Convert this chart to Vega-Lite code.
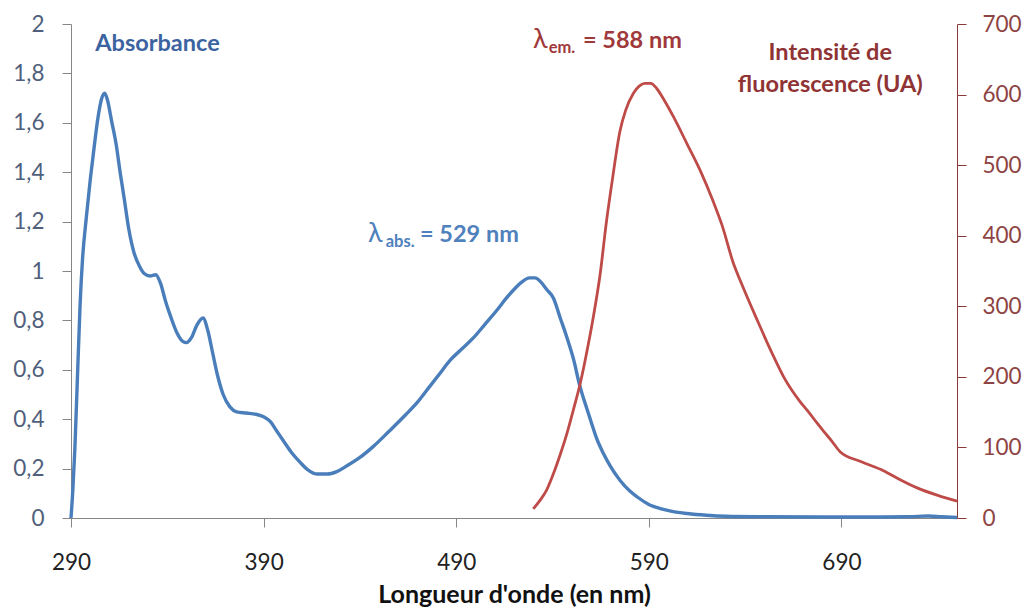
{
  "$schema": "https://vega.github.io/schema/vega-lite/v6.json",
  "width": 886,
  "height": 494,
  "autosize": {"type": "none"},
  "padding": {"left": 71, "top": 24, "right": 71, "bottom": 91},
  "background": "white",
  "config": {
    "view": {"stroke": null},
    "font": "Lato",
    "axis": {"grid": false, "labelFont": "Lato", "labelFontSize": 22.5, "titleFont": "Lato", "labelFlush": false, "labelOverlap": false}
  },
  "datasets": {
    "absorbance": [
      {"wavelength": 290, "absorbance": 0},
      {"wavelength": 291, "absorbance": 0.12},
      {"wavelength": 292, "absorbance": 0.28},
      {"wavelength": 293.3, "absorbance": 0.56},
      {"wavelength": 294.7, "absorbance": 0.86},
      {"wavelength": 296, "absorbance": 1.05},
      {"wavelength": 298, "absorbance": 1.22},
      {"wavelength": 300, "absorbance": 1.37},
      {"wavelength": 302, "absorbance": 1.5},
      {"wavelength": 304, "absorbance": 1.62},
      {"wavelength": 306, "absorbance": 1.7},
      {"wavelength": 307.5, "absorbance": 1.72},
      {"wavelength": 309, "absorbance": 1.69},
      {"wavelength": 311, "absorbance": 1.61},
      {"wavelength": 313.5, "absorbance": 1.51},
      {"wavelength": 315.5, "absorbance": 1.4},
      {"wavelength": 317.5, "absorbance": 1.3},
      {"wavelength": 320, "absorbance": 1.17},
      {"wavelength": 322.5, "absorbance": 1.08},
      {"wavelength": 325.5, "absorbance": 1.02},
      {"wavelength": 328, "absorbance": 0.99},
      {"wavelength": 331, "absorbance": 0.98},
      {"wavelength": 334, "absorbance": 0.985},
      {"wavelength": 336.5, "absorbance": 0.95},
      {"wavelength": 339, "absorbance": 0.88},
      {"wavelength": 342, "absorbance": 0.81},
      {"wavelength": 345, "absorbance": 0.75},
      {"wavelength": 348, "absorbance": 0.715},
      {"wavelength": 350, "absorbance": 0.71},
      {"wavelength": 352.5, "absorbance": 0.73},
      {"wavelength": 355.3, "absorbance": 0.78},
      {"wavelength": 358.5, "absorbance": 0.81},
      {"wavelength": 361, "absorbance": 0.76},
      {"wavelength": 363.5, "absorbance": 0.67},
      {"wavelength": 366, "absorbance": 0.58},
      {"wavelength": 369, "absorbance": 0.5},
      {"wavelength": 372.5, "absorbance": 0.45},
      {"wavelength": 376, "absorbance": 0.43},
      {"wavelength": 381, "absorbance": 0.425},
      {"wavelength": 386, "absorbance": 0.42},
      {"wavelength": 390, "absorbance": 0.41},
      {"wavelength": 393.5, "absorbance": 0.39},
      {"wavelength": 397, "absorbance": 0.35},
      {"wavelength": 400.5, "absorbance": 0.31},
      {"wavelength": 405, "absorbance": 0.26},
      {"wavelength": 409, "absorbance": 0.225},
      {"wavelength": 413, "absorbance": 0.195},
      {"wavelength": 418, "absorbance": 0.178},
      {"wavelength": 423, "absorbance": 0.178},
      {"wavelength": 428, "absorbance": 0.188},
      {"wavelength": 433, "absorbance": 0.21},
      {"wavelength": 440, "absorbance": 0.245},
      {"wavelength": 447, "absorbance": 0.29},
      {"wavelength": 455, "absorbance": 0.35},
      {"wavelength": 464, "absorbance": 0.42},
      {"wavelength": 470, "absorbance": 0.47},
      {"wavelength": 475, "absorbance": 0.52},
      {"wavelength": 481, "absorbance": 0.58},
      {"wavelength": 487, "absorbance": 0.64},
      {"wavelength": 493, "absorbance": 0.685},
      {"wavelength": 499, "absorbance": 0.73},
      {"wavelength": 505, "absorbance": 0.785},
      {"wavelength": 511, "absorbance": 0.84},
      {"wavelength": 516, "absorbance": 0.89},
      {"wavelength": 520, "absorbance": 0.925},
      {"wavelength": 524, "absorbance": 0.955},
      {"wavelength": 528, "absorbance": 0.972},
      {"wavelength": 531, "absorbance": 0.972},
      {"wavelength": 534, "absorbance": 0.955},
      {"wavelength": 537, "absorbance": 0.925},
      {"wavelength": 540.5, "absorbance": 0.89},
      {"wavelength": 544, "absorbance": 0.81},
      {"wavelength": 547.5, "absorbance": 0.73},
      {"wavelength": 551, "absorbance": 0.64},
      {"wavelength": 554, "absorbance": 0.54},
      {"wavelength": 557.5, "absorbance": 0.45},
      {"wavelength": 560, "absorbance": 0.39},
      {"wavelength": 563, "absorbance": 0.32},
      {"wavelength": 566.5, "absorbance": 0.26},
      {"wavelength": 570, "absorbance": 0.21},
      {"wavelength": 575, "absorbance": 0.153},
      {"wavelength": 580, "absorbance": 0.11},
      {"wavelength": 584, "absorbance": 0.085},
      {"wavelength": 590, "absorbance": 0.055},
      {"wavelength": 596, "absorbance": 0.038},
      {"wavelength": 602, "absorbance": 0.027},
      {"wavelength": 610, "absorbance": 0.018},
      {"wavelength": 620, "absorbance": 0.011},
      {"wavelength": 630, "absorbance": 0.007},
      {"wavelength": 650, "absorbance": 0.005},
      {"wavelength": 680, "absorbance": 0.004},
      {"wavelength": 710, "absorbance": 0.004},
      {"wavelength": 725, "absorbance": 0.005},
      {"wavelength": 735, "absorbance": 0.008},
      {"wavelength": 742, "absorbance": 0.005},
      {"wavelength": 750, "absorbance": 0.002}
    ],
    "fluorescence": [
      {"wavelength": 530, "intensity": 13},
      {"wavelength": 533.5, "intensity": 25},
      {"wavelength": 537, "intensity": 40},
      {"wavelength": 540.5, "intensity": 63},
      {"wavelength": 544, "intensity": 90},
      {"wavelength": 547.5, "intensity": 120},
      {"wavelength": 551, "intensity": 155},
      {"wavelength": 554.5, "intensity": 192},
      {"wavelength": 558, "intensity": 238},
      {"wavelength": 561, "intensity": 282},
      {"wavelength": 564.7, "intensity": 345},
      {"wavelength": 568, "intensity": 420},
      {"wavelength": 571, "intensity": 478},
      {"wavelength": 575, "intensity": 548},
      {"wavelength": 578, "intensity": 578},
      {"wavelength": 582, "intensity": 602},
      {"wavelength": 585, "intensity": 612},
      {"wavelength": 588, "intensity": 616},
      {"wavelength": 591, "intensity": 616},
      {"wavelength": 594, "intensity": 609},
      {"wavelength": 598, "intensity": 592},
      {"wavelength": 602.7, "intensity": 569},
      {"wavelength": 609.7, "intensity": 531},
      {"wavelength": 616.6, "intensity": 493},
      {"wavelength": 623.5, "intensity": 448},
      {"wavelength": 628, "intensity": 415},
      {"wavelength": 633.9, "intensity": 361},
      {"wavelength": 638, "intensity": 333},
      {"wavelength": 642.5, "intensity": 304},
      {"wavelength": 647, "intensity": 276},
      {"wavelength": 651.2, "intensity": 250},
      {"wavelength": 656, "intensity": 222},
      {"wavelength": 660, "intensity": 200},
      {"wavelength": 664, "intensity": 182},
      {"wavelength": 668.5, "intensity": 165},
      {"wavelength": 673, "intensity": 150},
      {"wavelength": 677.2, "intensity": 135},
      {"wavelength": 681, "intensity": 122},
      {"wavelength": 685, "intensity": 109},
      {"wavelength": 689.3, "intensity": 94},
      {"wavelength": 700, "intensity": 80},
      {"wavelength": 711.8, "intensity": 67},
      {"wavelength": 720, "intensity": 55},
      {"wavelength": 729, "intensity": 43},
      {"wavelength": 740, "intensity": 32},
      {"wavelength": 750, "intensity": 24}
    ]
  },
  "layer": [
    {
      "layer": [
        {
          "data": {"name": "absorbance"},
          "mark": {"type": "line", "color": "#4a7ebb", "strokeWidth": 3.4, "interpolate": "monotone"},
          "encoding": {
            "x": {
              "field": "wavelength", "type": "quantitative",
              "scale": {"domain": [290, 750], "nice": false, "zero": false},
              "axis": {
                "values": [290, 390, 490, 590, 690],
                "domainColor": "#868686", "tickColor": "#868686", "tickSize": 9,
                "labelPadding": 24, "labelColor": "#222222",
                "title": "Longueur d'onde (en nm)", "titleFontSize": 25, "titleFontWeight": "bold",
                "titleColor": "#111111", "titlePadding": 9
              }
            },
            "y": {
              "field": "absorbance", "type": "quantitative",
              "scale": {"domain": [0, 2], "nice": false},
              "axis": {
                "orient": "left",
                "values": [0, 0.2, 0.4, 0.6, 0.8, 1, 1.2, 1.4, 1.6, 1.8, 2],
                "labelExpr": "replace(format(datum.value, '.1~f'), '.', ',')",
                "domainColor": "#868686", "tickColor": "#868686", "tickSize": 9,
                "labelPadding": 18, "labelColor": "#4f5f7c", "title": null
              }
            }
          }
        },
        {
          "data": {"values": [{}]},
          "mark": {"type": "text", "text": "Absorbance", "font": "Lato", "fontSize": 23.5, "fontWeight": "bold", "color": "#3b63a0", "align": "center", "baseline": "alphabetic"},
          "encoding": {"x": {"datum": 334.9, "type": "quantitative"}, "y": {"datum": 1.89, "type": "quantitative"}}
        },
        {
          "data": {"values": [{}]},
          "mark": {"type": "text", "text": "λ", "font": "Lato", "fontSize": 27, "color": "#4f81bd", "align": "left", "baseline": "alphabetic"},
          "encoding": {"x": {"datum": 444.2, "type": "quantitative"}, "y": {"datum": 1.118, "type": "quantitative"}}
        },
        {
          "data": {"values": [{}]},
          "mark": {"type": "text", "text": "abs.", "font": "Lato", "fontSize": 16.5, "fontWeight": "bold", "color": "#4f81bd", "align": "left", "baseline": "alphabetic"},
          "encoding": {"x": {"datum": 453.4, "type": "quantitative"}, "y": {"datum": 1.097, "type": "quantitative"}}
        },
        {
          "data": {"values": [{}]},
          "mark": {"type": "text", "text": "= 529 nm", "font": "Lato", "fontSize": 23.5, "fontWeight": "bold", "color": "#4f81bd", "align": "left", "baseline": "alphabetic"},
          "encoding": {"x": {"datum": 471.2, "type": "quantitative"}, "y": {"datum": 1.118, "type": "quantitative"}}
        }
      ]
    },
    {
      "layer": [
        {
          "data": {"name": "fluorescence"},
          "mark": {"type": "line", "color": "#be4b48", "strokeWidth": 2.8, "interpolate": "monotone"},
          "encoding": {
            "x": {"field": "wavelength", "type": "quantitative"},
            "y": {
              "field": "intensity", "type": "quantitative",
              "scale": {"domain": [0, 700], "nice": false},
              "axis": {
                "orient": "right",
                "values": [0, 100, 200, 300, 400, 500, 600, 700],
                "domainColor": "#8b3a3a", "tickColor": "#8b3a3a", "tickSize": 9,
                "labelPadding": 16, "labelColor": "#8e4444", "title": null
              }
            }
          }
        },
        {
          "data": {"values": [{}]},
          "mark": {"type": "text", "text": "λ", "font": "Lato", "fontSize": 27, "color": "#a0393b", "align": "left", "baseline": "alphabetic"},
          "encoding": {"x": {"datum": 529.9, "type": "quantitative"}, "y": {"datum": 666, "type": "quantitative"}}
        },
        {
          "data": {"values": [{}]},
          "mark": {"type": "text", "text": "em.", "font": "Lato", "fontSize": 16.5, "fontWeight": "bold", "color": "#a0393b", "align": "left", "baseline": "alphabetic"},
          "encoding": {"x": {"datum": 538.0, "type": "quantitative"}, "y": {"datum": 658.4, "type": "quantitative"}}
        },
        {
          "data": {"values": [{}]},
          "mark": {"type": "text", "text": "= 588 nm", "font": "Lato", "fontSize": 23.5, "fontWeight": "bold", "color": "#a0393b", "align": "left", "baseline": "alphabetic"},
          "encoding": {"x": {"datum": 555.8, "type": "quantitative"}, "y": {"datum": 666, "type": "quantitative"}}
        },
        {
          "data": {"values": [{}]},
          "mark": {"type": "text", "text": "Intensité de", "font": "Lato", "fontSize": 23.5, "fontWeight": "bold", "color": "#8f3334", "align": "center", "baseline": "alphabetic"},
          "encoding": {"x": {"datum": 684.2, "type": "quantitative"}, "y": {"datum": 649, "type": "quantitative"}}
        },
        {
          "data": {"values": [{}]},
          "mark": {"type": "text", "text": "fluorescence (UA)", "font": "Lato", "fontSize": 23.5, "fontWeight": "bold", "color": "#8f3334", "align": "center", "baseline": "alphabetic"},
          "encoding": {"x": {"datum": 684.2, "type": "quantitative"}, "y": {"datum": 603.6, "type": "quantitative"}}
        }
      ]
    }
  ],
  "resolve": {"scale": {"y": "independent"}}
}
